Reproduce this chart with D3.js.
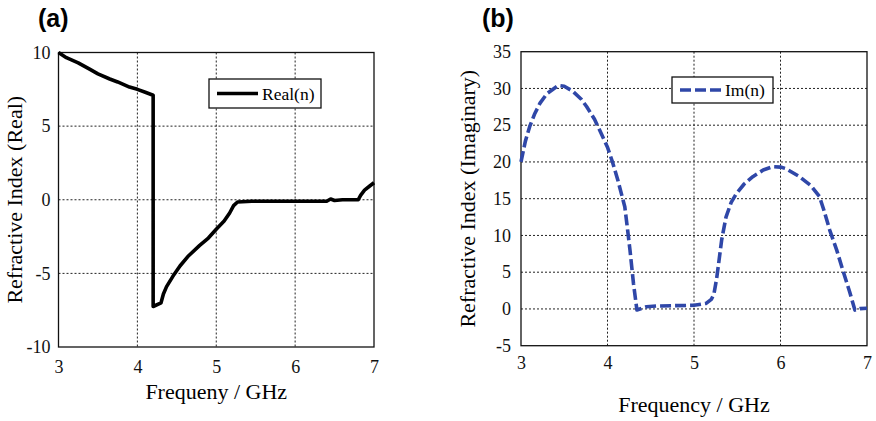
<!DOCTYPE html>
<html>
<head>
<meta charset="utf-8">
<script src="https://cdn.jsdelivr.net/npm/d3@7"></script>
<style>
  body { margin: 0; background: #fff; }
  text { font-family: "Liberation Serif", "Times New Roman", serif; }
</style>
</head>
<body>
<div id="chart"></div>
<script>
// frequency / value pairs
const realFreq = [3.0, 3.1, 3.25, 3.4, 3.5, 3.65, 3.75, 3.9, 4.0, 4.1, 4.2, 4.2, 4.3, 4.33, 4.37, 4.45, 4.54, 4.65, 4.79, 4.9, 5.0, 5.1, 5.17, 5.22, 5.27, 5.45, 6.0, 6.4, 6.45, 6.5, 6.6, 6.8, 6.83, 6.88, 6.95, 7.0];
const realVals = [10.0, 9.65, 9.3, 8.85, 8.55, 8.2, 8.0, 7.65, 7.5, 7.3, 7.1, -7.25, -7.0, -6.4, -5.9, -5.2, -4.5, -3.8, -3.1, -2.6, -2.0, -1.45, -0.9, -0.4, -0.15, -0.1, -0.1, -0.1, 0.05, -0.05, 0.0, 0.0, 0.3, 0.65, 0.95, 1.15];

const imFreq = [3.0, 3.05, 3.1, 3.16, 3.22, 3.3, 3.43, 3.5, 3.6, 3.7, 3.76, 3.85, 3.91, 4.0, 4.06, 4.12, 4.2, 4.23, 4.26, 4.3, 4.34, 4.45, 4.57, 4.8, 5.0, 5.14, 5.2, 5.23, 5.26, 5.28, 5.32, 5.37, 5.43, 5.49, 5.58, 5.68, 5.8, 5.91, 6.0, 6.06, 6.22, 6.35, 6.45, 6.5, 6.57, 6.65, 6.72, 6.8, 6.86, 6.92, 7.0];
const imVals = [20.0, 22.8, 24.8, 26.6, 28.0, 29.3, 30.4, 30.3, 29.6, 28.5, 27.5, 25.8, 24.3, 22.0, 19.9, 17.5, 13.9, 11.0, 8.0, 3.5, -0.15, 0.3, 0.4, 0.45, 0.5, 0.76, 1.3, 2.0, 4.0, 5.75, 9.4, 12.5, 14.5, 15.7, 17.0, 18.0, 18.9, 19.35, 19.3, 19.1, 18.0, 16.8, 15.3, 13.5, 10.7, 8.0, 5.3, 2.3, -0.15, 0.05, 0.1];

const xTicks = [3, 4, 5, 6, 7];
const realTicks = [-10, -5, 0, 5, 10];
const imTicks = [-5, 0, 5, 10, 15, 20, 25, 30, 35];

const svg = d3.select("#chart")
    .append("svg")
    .attr("width", 876)
    .attr("height", 421);

function drawPanel(p) {
    const x = d3.scaleLinear().domain([3, 7]).range([p.left, p.right]);
    const y = d3.scaleLinear().domain(p.yDomain).range([p.bottom, p.top]);
    const g = svg.append("g");

    // dotted grid
    g.selectAll(".vgrid")
        .data(xTicks.slice(1, -1))
        .enter()
        .append("line")
        .attr("x1", d => x(d)).attr("x2", d => x(d))
        .attr("y1", p.top).attr("y2", p.bottom)
        .style("stroke", "#222").style("stroke-width", 1)
        .style("stroke-dasharray", "2,2");
    g.selectAll(".hgrid")
        .data(p.yTicks.slice(1, -1))
        .enter()
        .append("line")
        .attr("x1", p.left).attr("x2", p.right)
        .attr("y1", d => y(d)).attr("y2", d => y(d))
        .style("stroke", "#222").style("stroke-width", 1)
        .style("stroke-dasharray", "2,2");

    // axes (labels only, frame drawn separately); plain hyphen for negatives
    const xAxis = g.append("g")
        .attr("transform", "translate(0," + p.bottom + ")")
        .call(d3.axisBottom(x).tickValues(xTicks).tickSize(0).tickPadding(p.xPad).tickFormat(d => String(d)));
    const yAxis = g.append("g")
        .attr("transform", "translate(" + p.left + ",0)")
        .call(d3.axisLeft(y).tickValues(p.yTicks).tickSize(0).tickPadding(p.yPad).tickFormat(d => String(d)));
    [xAxis, yAxis].forEach(a => {
        a.attr("font-family", "Liberation Serif").attr("font-size", 18);
        a.select(".domain").remove();
        a.selectAll("text")
            .style("font-family", "'Liberation Serif', serif")
            .style("font-size", "18px")
            .style("fill", "#111");
    });

    g.append("rect")
        .attr("x", p.left).attr("y", p.top)
        .attr("width", p.right - p.left).attr("height", p.bottom - p.top)
        .style("fill", "none").style("stroke", "#111").style("stroke-width", 1.3);

    // the curve
    const pts = p.freq.map((f, i) => [f, p.vals[i]]);
    const line = d3.line().x(d => x(d[0])).y(d => y(d[1]));
    g.append("path")
        .datum(pts)
        .attr("d", line)
        .style("fill", "none")
        .style("stroke", p.color)
        .style("stroke-width", 3.6)
        .style("stroke-linejoin", "round")
        .style("stroke-dasharray", p.dash);

    // legend
    g.append("rect")
        .attr("x", p.leg[0]).attr("y", p.leg[1])
        .attr("width", p.leg[2]).attr("height", p.leg[3])
        .style("fill", "#fff").style("stroke", "#111").style("stroke-width", 1.3);
    const ly = p.leg[1] + p.leg[3] / 2;
    g.append("line")
        .attr("x1", p.leg[0] + 8).attr("x2", p.leg[0] + 49)
        .attr("y1", ly).attr("y2", ly)
        .style("stroke", p.color).style("stroke-width", 3.6)
        .style("stroke-dasharray", p.dash);
    g.append("text")
        .attr("x", p.leg[0] + 53).attr("y", ly + 6)
        .style("font-size", "17.5px")
        .text(p.name);

    // titles
    g.append("text")
        .attr("x", (p.left + p.right) / 2).attr("y", p.xTitleY)
        .style("text-anchor", "middle").style("font-size", "22px")
        .text(p.xTitle);
    g.append("text")
        .attr("transform", "rotate(-90)")
        .attr("x", -(p.top + p.bottom) / 2).attr("y", p.yTitleX)
        .style("text-anchor", "middle").style("font-size", "22px")
        .text(p.yTitle);

    g.append("text")
        .attr("x", p.tagX).attr("y", 27)
        .style("font-family", "'Liberation Sans', Arial, sans-serif")
        .style("font-weight", "bold").style("font-size", "25px")
        .text(p.tag);
}

drawPanel({
    left: 58.5, right: 374, top: 52.5, bottom: 347,
    yDomain: [-10, 10], yTicks: realTicks,
    freq: realFreq, vals: realVals,
    color: "#000", dash: null, name: "Real(n)",
    leg: [209, 79, 112, 29],
    xPad: 13, yPad: 8,
    xTitle: "Frequeny / GHz", xTitleY: 399,
    yTitle: "Refractive Index (Real)", yTitleX: 22,
    tag: "(a)", tagX: 38
});

drawPanel({
    left: 521, right: 867, top: 51.7, bottom: 345.7,
    yDomain: [-5, 35], yTicks: imTicks,
    freq: imFreq, vals: imVals,
    color: "#2f47a8", dash: "11,4", name: "Im(n)",
    leg: [672, 77, 101, 26],
    xPad: 11, yPad: 10,
    xTitle: "Frequency / GHz", xTitleY: 412,
    yTitle: "Refractive Index (Imaginary)", yTitleX: 475,
    tag: "(b)", tagX: 482
});
</script>
</body>
</html>
